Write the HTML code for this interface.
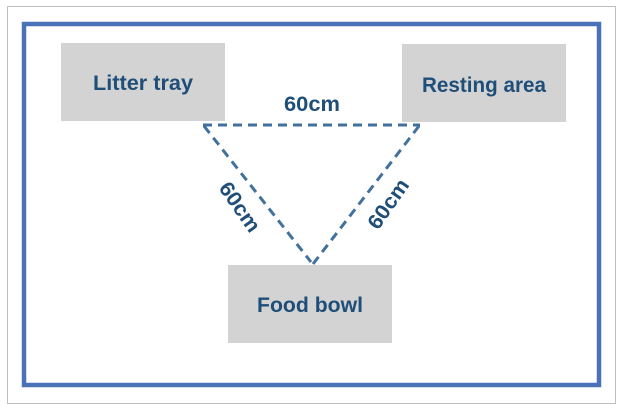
<!DOCTYPE html>
<html><head><meta charset="utf-8"><style>
html,body{margin:0;padding:0;background:#fff;width:623px;height:409px;overflow:hidden}
</style></head><body>
<svg width="623" height="409" viewBox="0 0 623 409" xmlns="http://www.w3.org/2000/svg">
<rect x="7.5" y="6.5" width="608" height="397" fill="#fff" stroke="#bfbfbf" stroke-width="1"/>
<rect x="24" y="24" width="575" height="361" fill="none" stroke="#4a72b8" stroke-width="4.5"/>
<rect x="61" y="43" width="164" height="78" fill="#d3d3d3"/>
<rect x="402" y="44" width="164" height="78" fill="#d3d3d3"/>
<rect x="228" y="265" width="164" height="78" fill="#d3d3d3"/>
<g stroke="#41719c" stroke-width="3" stroke-dasharray="9,6" fill="none">
<line x1="203" y1="125" x2="420" y2="125"/>
<line x1="204" y1="126" x2="311" y2="262"/>
<line x1="419" y1="126" x2="313" y2="264"/>
</g>
<g font-family="Liberation Sans, sans-serif" font-weight="bold" font-size="21" fill="#1f4e79" text-anchor="middle">
<text x="143" y="90" textLength="100" lengthAdjust="spacingAndGlyphs">Litter tray</text>
<text x="484" y="92" textLength="124" lengthAdjust="spacingAndGlyphs">Resting area</text>
<text x="310" y="312" textLength="106" lengthAdjust="spacingAndGlyphs">Food bowl</text>
<text x="312" y="111" textLength="56" lengthAdjust="spacingAndGlyphs">60cm</text>
<text transform="translate(234,211) rotate(55)" textLength="56" lengthAdjust="spacingAndGlyphs">60cm</text>
<text transform="translate(394,208) rotate(-55)" textLength="56" lengthAdjust="spacingAndGlyphs">60cm</text>
</g>
</svg>
</body></html>
